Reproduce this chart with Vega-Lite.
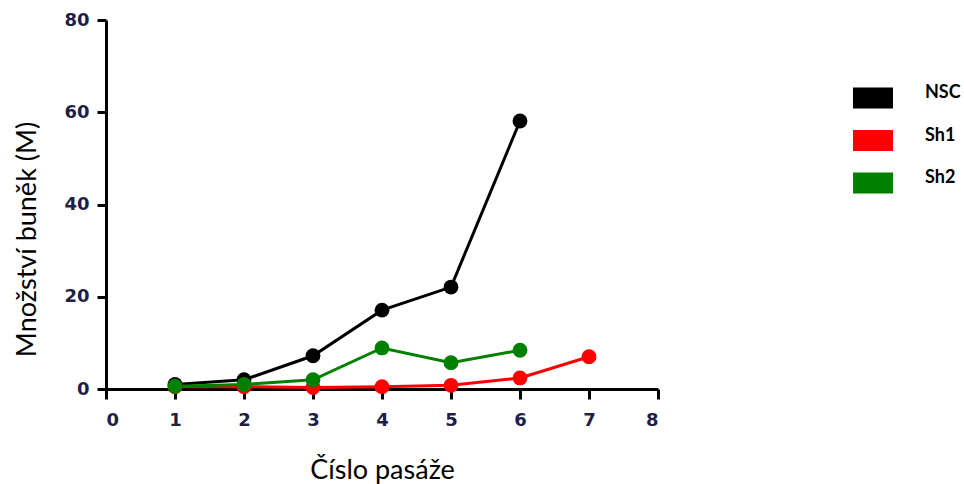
{
  "$schema": "https://vega.github.io/schema/vega-lite/v6.json",
  "width": 552,
  "height": 369,
  "autosize": {"type": "none"},
  "padding": {"left": 106, "top": 20, "right": 306, "bottom": 95},
  "background": "white",
  "config": {"view": {"stroke": null}},
  "data": {
    "values": [
      {"pasaz": 1, "pocet": 1.0, "linie": "NSC"},
      {"pasaz": 2, "pocet": 2.0, "linie": "NSC"},
      {"pasaz": 3, "pocet": 7.2, "linie": "NSC"},
      {"pasaz": 4, "pocet": 17.1, "linie": "NSC"},
      {"pasaz": 5, "pocet": 22.1, "linie": "NSC"},
      {"pasaz": 6, "pocet": 58.1, "linie": "NSC"},
      {"pasaz": 1, "pocet": 0.5, "linie": "Sh1"},
      {"pasaz": 2, "pocet": 0.5, "linie": "Sh1"},
      {"pasaz": 3, "pocet": 0.3, "linie": "Sh1"},
      {"pasaz": 4, "pocet": 0.5, "linie": "Sh1"},
      {"pasaz": 5, "pocet": 0.8, "linie": "Sh1"},
      {"pasaz": 6, "pocet": 2.4, "linie": "Sh1"},
      {"pasaz": 7, "pocet": 7.0, "linie": "Sh1"},
      {"pasaz": 1, "pocet": 0.6, "linie": "Sh2"},
      {"pasaz": 2, "pocet": 1.0, "linie": "Sh2"},
      {"pasaz": 3, "pocet": 2.0, "linie": "Sh2"},
      {"pasaz": 4, "pocet": 8.9, "linie": "Sh2"},
      {"pasaz": 5, "pocet": 5.7, "linie": "Sh2"},
      {"pasaz": 6, "pocet": 8.4, "linie": "Sh2"}
    ]
  },
  "encoding": {
    "x": {
      "field": "pasaz",
      "type": "quantitative",
      "scale": {"domain": [0, 8], "nice": false, "zero": false},
      "axis": {
        "title": "Číslo pasáže",
        "values": [0, 1, 2, 3, 4, 5, 6, 7, 8],
        "grid": false,
        "domainColor": "#000000",
        "domainWidth": 3,
        "tickColor": "#000000",
        "tickWidth": 3,
        "tickSize": 10,
        "labelPadding": 12,
        "labelFont": "DejaVu Sans",
        "labelFontWeight": "bold",
        "labelFontSize": 18,
        "labelColor": "#1e1e46",
        "titleFont": "Lato",
        "titleFontSize": 27,
        "titleFontWeight": "normal",
        "titleColor": "#000000",
        "titleY": 89,
        "titleBaseline": "alphabetic"
      }
    },
    "y": {
      "field": "pocet",
      "type": "quantitative",
      "scale": {"domain": [0, 80], "nice": false},
      "axis": {
        "title": "Množství buněk (M)",
        "values": [0, 20, 40, 60, 80],
        "grid": false,
        "domainColor": "#000000",
        "domainWidth": 3,
        "tickColor": "#000000",
        "tickWidth": 3,
        "tickSize": 9,
        "labelPadding": 8,
        "labelFont": "DejaVu Sans",
        "labelFontWeight": "bold",
        "labelFontSize": 18,
        "labelColor": "#1e1e46",
        "titleFont": "Lato",
        "titleFontSize": 27,
        "titleFontWeight": "normal",
        "titleColor": "#000000",
        "titleX": -71,
        "titleY": 219,
        "titleAngle": -90,
        "titleBaseline": "alphabetic"
      }
    },
    "color": {
      "field": "linie",
      "type": "nominal",
      "scale": {"domain": ["NSC", "Sh1", "Sh2"], "range": ["#000000", "#ff0000", "#008000"]},
      "legend": {
        "title": null,
        "orient": "none",
        "legendX": 747,
        "legendY": 58,
        "padding": 0,
        "symbolType": "M-1,-0.525H1V0.525H-1Z",
        "symbolSize": 1600,
        "symbolStrokeWidth": 0,
        "symbolOpacity": 1,
        "labelOffset": 32,
        "labelBaseline": "alphabetic",
        "rowPadding": 11.5,
        "labelFont": "Lato",
        "labelFontWeight": "bold",
        "labelFontSize": 18,
        "labelColor": "#000000"
      }
    }
  },
  "layer": [
    {"mark": {"type": "line", "strokeWidth": 3}},
    {"mark": {"type": "point", "filled": true, "size": 220, "opacity": 1}}
  ]
}
